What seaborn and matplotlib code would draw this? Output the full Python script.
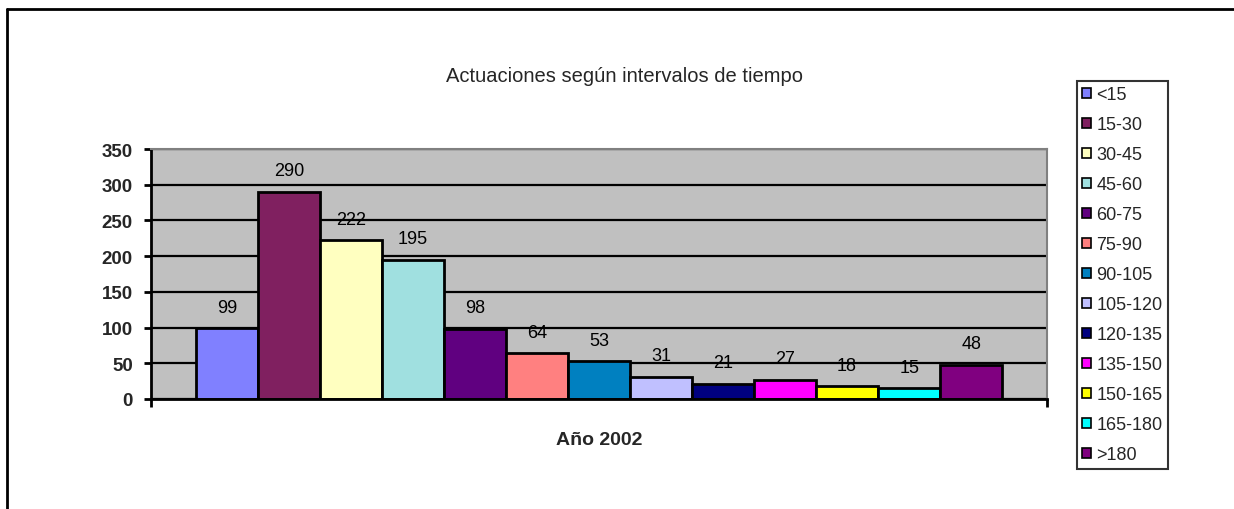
import matplotlib
matplotlib.use("Agg")
import matplotlib.pyplot as plt
from matplotlib.lines import Line2D
from matplotlib.patches import Patch
import pandas as pd
import seaborn as sns

# Chart data
intervals = ["<15", "15-30", "30-45", "45-60", "60-75", "75-90", "90-105",
             "105-120", "120-135", "135-150", "150-165", "165-180", ">180"]
counts = [99, 290, 222, 195, 98, 64, 53, 31, 21, 27, 18, 15, 48]
year_label = "Año 2002"
title = "Actuaciones según intervalos de tiempo"
y_ticks = [0, 50, 100, 150, 200, 250, 300, 350]

colors = ["#8080FF", "#802060", "#FFFFC0", "#A0E0E0", "#600080", "#FF8080",
          "#0080C0", "#C0C0FF", "#000080", "#FF00FF", "#FFFF00", "#00FFFF",
          "#800080"]

sns.set_theme(style="white")
plt.rcParams["font.family"] = ["Liberation Sans", "DejaVu Sans"]

df = pd.DataFrame({
    "Año": [year_label] * len(intervals),
    "Intervalo": intervals,
    "Actuaciones": counts,
})

fig = plt.figure(figsize=(12.34, 5.10), dpi=100)
fig.patch.set_facecolor("white")
W, H = 1234, 510
ax = fig.add_axes([151 / W, 1 - 400 / H, (1047 - 151) / W, (400 - 150) / H])
ax.set_facecolor("#C0C0C0")

sns.barplot(data=df, x="Año", y="Actuaciones", hue="Intervalo",
            hue_order=intervals, palette=colors, width=0.9,
            edgecolor="black", linewidth=2, legend=False, ax=ax,
            saturation=1, errorbar=None)

ax.set_xlim(-0.5, 0.5)
ax.set_ylim(0, 350)
ax.set_yticks(y_ticks)
ax.set_yticklabels([str(t) for t in y_ticks], fontsize=13.5, fontweight="bold")

# Horizontal gridlines behind bars
ax.set_axisbelow(True)
ax.yaxis.grid(True, color="black", linewidth=1.6)
ax.xaxis.grid(False)

# Spines
for side in ["left", "bottom"]:
    ax.spines[side].set_color("black")
    ax.spines[side].set_linewidth(2)
for side in ["top", "right"]:
    ax.spines[side].set_color("#808080")
    ax.spines[side].set_linewidth(1.5)

ax.tick_params(axis="y", which="major", direction="out", length=5,
               width=2, color="black", pad=8, left=True)
# Category label centred, tick marks at the category boundaries
ax.set_xticks([0])
ax.set_xticklabels([year_label], fontsize=14, fontweight="bold")
ax.tick_params(axis="x", which="major", length=0, pad=23)
ax.set_xticks([-0.5, 0.5], minor=True)
ax.tick_params(axis="x", which="minor", direction="out", length=6,
               width=2, color="black", bottom=True)
ax.set_xlabel("")
ax.set_ylabel("")

# Value labels above each bar
for cont in ax.containers:
    ax.bar_label(cont, fmt="%d", padding=9, fontsize=13, color="black")

# Title
fig.text(625 / W, 1 - 76 / H, title, ha="center", va="center", fontsize=14.5)

# Legend
handles = [Patch(facecolor=c, edgecolor="black", linewidth=1.2) for c in colors]
leg = fig.legend(handles, intervals, loc="upper left",
                 bbox_to_anchor=(1077 / W, 1 - 82 / H),
                 bbox_transform=fig.transFigure,
                 fontsize=13, frameon=True, fancybox=False, shadow=False,
                 handlelength=0.45, handleheight=0.45, handletextpad=0.33,
                 labelspacing=0.72, borderpad=0.3, borderaxespad=0)
leg.get_frame().set_edgecolor("black")
leg.get_frame().set_linewidth(1.5)
leg.get_frame().set_facecolor("white")

# Outer chart border (top and left edges)
fig.add_artist(Line2D([7 / W, 1.0], [1 - 10 / H, 1 - 10 / H],
                      transform=fig.transFigure, color="black", linewidth=2))
fig.add_artist(Line2D([7 / W, 7 / W], [0.0, 1 - 10 / H],
                      transform=fig.transFigure, color="black", linewidth=2))

fig.savefig("out.png", dpi=100)
